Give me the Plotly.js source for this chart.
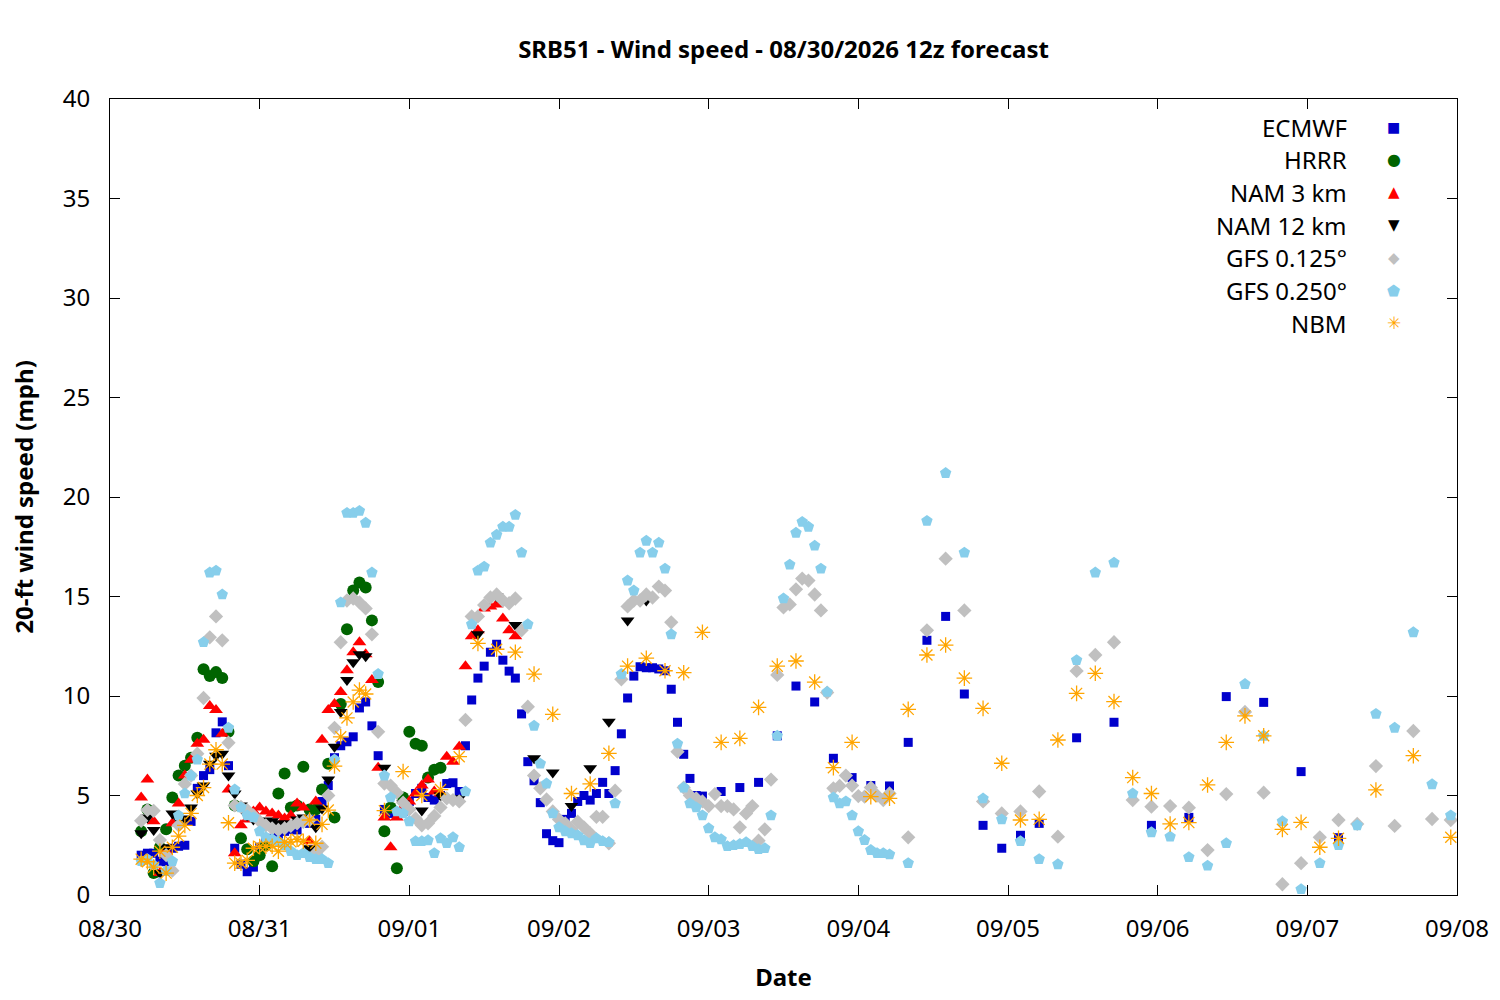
<!DOCTYPE html>
<html>
<head>
<meta charset="utf-8">
<script src="https://cdn.plot.ly/plotly-3.0.1.min.js"></script>
<style>
  html, body { margin: 0; padding: 0; background: #ffffff; }
  #chart { width: 1500px; height: 1000px; }
</style>
</head>
<body>
<div id="chart"></div>
<script>
// Wind speed forecast, SRB51, 08/30/2026 12z run.
// Times are hours after 08/30 00:00 local (12z = hour 5), speeds in mph.

const RUN_START = Date.UTC(2026, 7, 30, 0, 0);

// forecast time grid: hourly / 3-hourly / 6-hourly steps
function steps(from, to, step) {
  const out = [];
  for (let h = from; h <= to; h += step) out.push(h);
  return out;
}

const SERIES_NAMES = ["ECMWF", "HRRR", "NAM 3 km", "NAM 12 km", "GFS 0.125°", "GFS 0.250°", "NBM"];

// ── ECMWF ─────────────────────────────────────────────────────────────────────
const ecmwfHours = [...steps(5, 95, 1), ...steps(98, 149, 3), ...steps(155, 197, 6)];
const ecmwfSpeed = [
  2.0, 2.1, 2.1, 1.7, 1.67, 2.35, 2.45, 2.5, 3.7, 5.36,
  6.0, 6.3, 8.15, 8.7, 6.5, 2.35, 1.55, 1.17, 1.4, 2.4,
  2.7, 2.85, 3.0, 3.2, 3.3, 3.27, 3.77, 3.6, 3.8, 4.7,
  5.5, 6.9, 7.5, 7.7, 7.95, 9.4, 9.7, 8.5, 7.0, 4.3,
  4.1, 4.0, 4.2, 4.7, 5.1, 5.36, 4.9, 4.77, 5.0, 5.6,
  5.64, 5.2, 7.5, 9.8, 10.9, 11.5, 12.2, 12.6, 11.8, 11.25,
  10.9, 9.1, 6.7, 5.74, 4.64, 3.08, 2.73, 2.63, 3.8, 4.1,
  4.7, 5.0, 4.77, 5.1, 5.66, 5.1, 6.25, 8.1, 9.9, 11.0,
  11.47, 11.42, 11.42, 11.36, 11.27, 10.34, 8.68, 7.07, 5.86, 5.0,
  4.97,
  5.2, 5.4, 5.66, 8.0, 10.5, 9.7, 6.87, 5.9, 5.5, 5.48,
  7.67, 12.8, 14.0, 10.1, 3.5, 2.35, 3.0, 3.6,
  7.9, 8.68, 3.5, 3.9, 9.97, 9.68, 6.2, 2.88,
];

// ── HRRR ──────────────────────────────────────────────────────────────────────
const hrrrHours = steps(5, 53, 1);
const hrrrSpeed = [
  3.2, 4.3, 1.1, 2.4, 3.3, 4.9, 6.0, 6.5, 6.9, 7.9,
  11.35, 11.0, 11.2, 10.9, 8.2, 4.5, 2.85, 2.3, 1.7, 2.0,
  2.5, 1.45, 5.1, 6.1, 4.4, 4.5, 6.45, 4.3, 4.3, 5.3,
  6.6, 3.9, 9.6, 13.35, 15.3, 15.7, 15.45, 13.8, 10.7, 3.2,
  4.4, 1.34, 4.9, 8.2, 7.6, 7.5, 5.9, 6.3, 6.4,
];

// ── NAM 3 km ──────────────────────────────────────────────────────────────────
const nam3Hours = steps(5, 65, 1);
const nam3Speed = [
  4.9, 5.8, 3.7, 1.1, 2.2, 3.6, 4.6, 6.0, 6.8, 7.6,
  7.8, 9.5, 9.3, 8.1, 5.3, 2.1, 3.5, 3.8, 4.2, 4.4,
  4.2, 4.1, 4.0, 3.85, 4.0, 4.6, 4.4, 2.7, 4.7, 7.8,
  9.3, 9.6, 10.2, 11.3, 12.2, 12.7, 12.1, 10.8, 6.4, 3.9,
  2.4, 3.9, 4.4, 4.7, 5.1, 5.5, 5.8, 5.2, 5.1, 6.95,
  6.7, 7.45, 11.5, 13.0, 13.3, 14.4, 14.5, 14.6, 13.9, 13.3, 13.0,
];

// ── NAM 12 km ─────────────────────────────────────────────────────────────────
const nam12Hours = [...steps(5, 41, 1), ...steps(44, 86, 3)];
const nam12Speed = [
  3.1, 3.9, 3.27, 1.1, 2.4, 4.1, 3.8, 3.85, 4.4, 5.1,
  5.5, 6.6, 7.0, 7.1, 6.0, 5.1, 4.5, 4.0, 3.8, 3.7,
  3.75, 3.7, 3.6, 3.5, 3.6, 3.8, 3.9, 2.35, 3.4, 4.35,
  5.8, 7.45, 9.2, 10.8, 11.7, 12.1, 12.0,
  6.4, 4.6, 4.24, 5.0, 4.86, 13.1, 15.0, 13.57, 6.87, 6.15,
  4.47, 6.37, 8.7, 13.8, 14.8,
];

// ── GFS 0.125° ────────────────────────────────────────────────────────────────
const gfs125Hours = [...steps(5, 125, 1), ...steps(128, 215, 3)];
const gfs125Speed = [
  3.73, 4.27, 4.23, 2.76, 2.0, 1.22, 3.5, 5.58, 6.0, 7.1,
  9.9, 12.95, 14.0, 12.8, 7.65, 4.5, 4.43, 4.27, 4.0, 3.7,
  3.5, 3.35, 3.27, 3.35, 3.47, 3.6, 3.68, 3.77, 2.1, 2.43,
  5.0, 8.4, 12.7, 14.8, 14.9, 14.7, 14.4, 13.1, 8.2, 5.6,
  5.5, 5.14, 4.64, 4.3, 3.85, 3.5, 3.6, 3.97, 4.4, 4.86,
  4.77, 4.7, 8.8, 14.0, 14.0, 14.57, 14.95, 15.1, 14.8, 14.66,
  14.9, 13.3, 9.46, 6.0, 5.36, 4.8, 4.2, 3.8, 3.6, 3.3,
  3.68, 3.4, 3.1, 3.93, 3.93, 2.6, 5.24, 10.84, 14.5, 14.8,
  14.8, 15.1, 14.95, 15.5, 15.3, 13.7, 7.2, 5.4, 5.0, 4.86,
  4.7, 4.47, 5.07, 4.47, 4.47, 4.3, 3.4, 4.1, 4.47, 2.73,
  3.3, 5.8, 11.06, 14.45, 14.6, 15.36, 15.9, 15.8, 15.1, 14.3,
  10.17, 5.36, 5.48, 6.0, 5.5, 4.97, 4.94, 5.4, 5.0, 4.77, 5.1,
  2.9, 13.3, 16.9, 14.3, 4.7, 4.1, 4.2, 5.2, 2.93, 11.26,
  12.06, 12.7, 4.77, 4.44, 4.47, 4.39, 2.26, 5.07, 9.2, 5.14,
  0.54, 1.6, 2.9, 3.77, 3.57, 6.48, 3.47, 8.24, 3.82, 3.77,
];

// ── GFS 0.250° ────────────────────────────────────────────────────────────────
const gfs250Hours = [...steps(5, 125, 1), ...steps(128, 215, 3)];
const gfs250Speed = [
  1.7, 1.8, 1.5, 0.6, 1.2, 1.7, 4.0, 5.1, 6.0, 6.8,
  12.7, 16.2, 16.3, 15.1, 8.4, 5.3, 4.4, 4.0, 3.9, 3.2,
  2.9, 2.8, 2.7, 2.5, 2.2, 2.0, 2.1, 1.9, 1.8, 1.8,
  1.6, 6.8, 14.7, 19.2, 19.2, 19.3, 18.7, 16.2, 11.1, 6.0,
  4.9, 4.2, 4.1, 3.7, 2.7, 2.7, 2.75, 2.1, 2.85, 2.6,
  2.9, 2.4, 5.2, 13.6, 16.3, 16.5, 17.7, 18.1, 18.5, 18.5,
  19.1, 17.2, 13.6, 8.5, 6.6, 5.6, 4.1, 3.4, 3.2, 3.1,
  3.0, 2.75, 2.6, 2.85, 2.7, 2.65, 4.6, 11.1, 15.8, 15.3,
  17.2, 17.8, 17.2, 17.7, 16.4, 13.1, 7.6, 5.4, 4.6, 4.4,
  4.0, 3.35, 2.9, 2.8, 2.45, 2.5, 2.56, 2.65, 2.45, 2.3,
  2.35, 4.0, 8.0, 14.9, 16.6, 18.2, 18.75, 18.5, 17.55, 16.4,
  10.2, 4.9, 4.6, 4.7, 4.0, 3.2, 2.76, 2.26, 2.1, 2.1, 2.04,
  1.6, 18.8, 21.2, 17.2, 4.85, 3.8, 2.7, 1.8, 1.54, 11.8,
  16.2, 16.7, 5.1, 3.15, 2.93, 1.9, 1.47, 2.6, 10.6, 8.0,
  3.7, 0.29, 1.6, 2.5, 3.5, 9.1, 8.4, 13.2, 5.56, 4.0,
];

// ── NBM ───────────────────────────────────────────────────────────────────────
const nbmHours = [...steps(5, 41, 1), ...steps(44, 197, 3), ...steps(203, 215, 6)];
const nbmSpeed = [
  1.8, 1.67, 1.4, 2.2, 1.1, 2.4, 2.96, 3.5, 4.1, 5.0,
  5.4, 6.58, 7.3, 6.58, 3.63, 1.6, 1.6, 1.74, 2.35, 2.43,
  2.45, 2.45, 2.2, 2.65, 2.67, 2.8, 2.7, 3.77, 2.6, 3.55,
  4.27, 6.48, 7.95, 8.9, 9.7, 10.3, 10.1,
  4.24, 6.2, 5.0, 5.3, 6.95, 12.64, 12.35, 12.2, 11.1, 9.08,
  5.1, 5.58, 7.12, 11.5, 11.9, 11.27, 11.17, 13.2, 7.67, 7.87,
  9.43, 11.5, 11.76, 10.7, 6.4, 7.67, 4.94, 4.86, 9.33, 12.06,
  12.56, 10.9, 9.38, 6.62, 3.77, 3.8, 7.79, 10.13, 11.14, 9.72,
  5.9, 5.1, 3.57, 3.64, 5.53, 7.67, 9.0, 8.0, 3.3, 3.65,
  2.4, 2.85,
  5.28, 7.0, 2.9,
];

// ── Styling ───────────────────────────────────────────────────────────────────

const FONT = "'Noto Sans', 'Open Sans', sans-serif";
const TEXT_SIZE = 24;

const STYLES = [
  { color: "#0000cc", symbol: "square", size: 9, glyph: "■", gsize: 14 },
  { color: "#006400", symbol: "circle", size: 12, glyph: "●", gsize: 16 },
  { color: "#ff0000", symbol: "triangle-up", size: 12, glyph: "▲", gsize: 15 },
  { color: "#000000", symbol: "triangle-down", size: 12, glyph: "▼", gsize: 15 },
  { color: "#c0c0c0", symbol: "diamond", size: 11, glyph: "◆", gsize: 15 },
  { color: "#87ceeb", symbol: "pentagon", size: 12, glyph: "⬟", gsize: 15 },
  { color: "#ffa500", symbol: "asterisk-open", size: 13, glyph: "✳", gsize: 17 },
];

function toDate(h) {
  return new Date(RUN_START + h * 3600000).toISOString().slice(0, 19).replace("T", " ");
}

const seriesData = [
  [ecmwfHours, ecmwfSpeed],
  [hrrrHours, hrrrSpeed],
  [nam3Hours, nam3Speed],
  [nam12Hours, nam12Speed],
  [gfs125Hours, gfs125Speed],
  [gfs250Hours, gfs250Speed],
  [nbmHours, nbmSpeed],
];

const traces = seriesData.map(([hours, speed], i) => {
  const st = STYLES[i];
  const open = st.symbol.endsWith("-open");
  return {
    type: "scatter",
    mode: "markers",
    name: SERIES_NAMES[i],
    x: hours.map(toDate),
    y: speed,
    marker: {
      symbol: st.symbol,
      size: st.size,
      color: st.color,
      line: open ? { color: st.color, width: 1.3 } : { width: 0 },
    },
    hovertemplate: `${SERIES_NAMES[i]}: %{y:.1f} mph<extra></extra>`,
  };
});

// gnuplot-style key: right-aligned text, symbol on the right
const annotations = [];
SERIES_NAMES.forEach((name, i) => {
  const y = 0.9648 - i * 0.0411;
  annotations.push({
    xref: "paper", yref: "paper", x: 0.9198, y,
    xanchor: "right", yanchor: "middle", showarrow: false,
    text: name, font: { family: FONT, size: TEXT_SIZE, color: "#000" },
  });
  annotations.push({
    xref: "paper", yref: "paper", x: 0.9532, y,
    xanchor: "center", yanchor: "middle", showarrow: false,
    text: STYLES[i].glyph,
    font: { family: "'DejaVu Sans', sans-serif", size: STYLES[i].gsize, color: STYLES[i].color },
  });
});

const axisCommon = {
  showline: true,
  linecolor: "#000",
  linewidth: 1,
  mirror: "ticks",
  ticks: "inside",
  ticklen: 10,
  tickwidth: 1,
  tickcolor: "#000",
  showgrid: false,
  zeroline: false,
  tickfont: { family: FONT, size: TEXT_SIZE, color: "#000" },
};

const layout = {
  width: 1500,
  height: 1000,
  margin: { l: 110, r: 43, t: 99, b: 105 },
  paper_bgcolor: "#ffffff",
  plot_bgcolor: "#ffffff",
  font: { family: FONT, color: "#000" },
  showlegend: false,
  title: {
    text: "<b>SRB51 - Wind speed - 08/30/2026 12z forecast</b>",
    font: { family: FONT, size: TEXT_SIZE, color: "#000" },
    x: 0.5, xref: "paper", xanchor: "center",
    y: 0.95, yref: "container", yanchor: "middle",
  },
  xaxis: {
    ...axisCommon,
    type: "date",
    range: ["2026-08-30 00:00", "2026-09-08 00:00"],
    tick0: "2026-08-30 00:00",
    dtick: 86400000,
    tickformat: "%m/%d",
    ticklabelstandoff: 12,
    title: { text: "<b>Date</b>", font: { family: FONT, size: TEXT_SIZE }, standoff: 26 },
  },
  yaxis: {
    ...axisCommon,
    range: [0, 40],
    dtick: 5,
    ticklabelstandoff: 14,
    title: { text: "<b>20-ft wind speed (mph)</b>", font: { family: FONT, size: TEXT_SIZE }, standoff: 22 },
  },
  annotations,
};

Plotly.newPlot("chart", traces, layout, { displayModeBar: false, responsive: false });
</script>
</body>
</html>
